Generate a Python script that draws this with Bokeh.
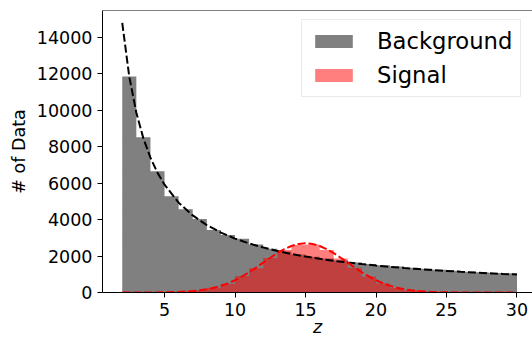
from bokeh.plotting import figure
from bokeh.models import (Range1d, FixedTicker, Span, Legend, LegendItem)
from bokeh.embed import file_html
from bokeh.resources import INLINE

# ---- data ----
bin_edges = [2, 3, 4, 5, 6, 7, 8, 9, 10, 11, 12, 13, 14, 15, 16, 17, 18, 19, 20,
             21, 22, 23, 24, 25, 26, 27, 28, 29, 30]
bkg_counts = [11860, 8520, 6660, 5290, 4575, 4030, 3425, 3150, 2950, 2640,
              2400, 2250, 2080, 1960, 1870, 1760, 1650, 1560, 1500, 1430,
              1360, 1300, 1250, 1190, 1140, 1110, 1070, 1050]
sig_counts = [0, 1, 5, 17, 50, 120, 260, 480, 900, 1330, 1900, 2330, 2610,
              2640, 2330, 1870, 1360, 880, 490, 250, 120, 45, 17, 6, 2, 0, 0, 0]

bkg_curve_x = [2, 2.5, 3, 3.5, 4, 4.5, 5, 6, 7, 8, 9, 10, 11, 12, 13, 14, 15,
               16, 17, 18, 19, 20, 21, 22, 23, 24, 25, 26, 27, 28, 29, 30]
bkg_curve_y = [14800, 11840, 9870, 8460, 7400, 6580, 5920, 4930, 4230, 3700,
               3290, 2960, 2690, 2470, 2280, 2110, 1970, 1850, 1740, 1645,
               1560, 1480, 1410, 1345, 1290, 1233, 1185, 1138, 1096, 1057,
               1020, 987]

sig_curve_x = [2, 3, 4, 5, 6, 7, 7.5, 8, 8.5, 9, 9.5, 10, 10.5, 11, 11.5, 12,
               12.5, 13, 13.5, 14, 14.5, 15, 15.5, 16, 16.5, 17, 17.5, 18,
               18.5, 19, 19.5, 20, 20.5, 21, 21.5, 22, 22.5, 23, 24, 25, 26,
               27, 28, 29, 30]
sig_curve_y = [0, 1, 3, 10, 30, 77, 119, 177, 258, 365, 503, 673, 878, 1110,
               1366, 1638, 1909, 2162, 2383, 2554, 2663, 2700, 2663, 2554,
               2383, 2162, 1909, 1638, 1366, 1110, 878, 673, 503, 365, 258,
               177, 119, 77, 30, 10, 3, 1, 0, 0, 0]

y_ticks = [0, 2000, 4000, 6000, 8000, 10000, 12000, 14000]
x_ticks = [5, 10, 15, 20, 25, 30]

FONT = "DejaVu Sans"
TICK_SIZE = "17.5px"


def step_outline(edges, counts):
    """Outline of a histogram (as matplotlib's stepfilled bars) from edges/counts."""
    xs, ys = [edges[0]], [0]
    for i, c in enumerate(counts):
        xs += [edges[i], edges[i + 1]]
        ys += [c, c]
    xs.append(edges[-1])
    ys.append(0)
    return xs, ys


p = figure(width=532, height=341, output_backend="svg", toolbar_location=None,
           x_range=Range1d(0.6, 31.1), y_range=Range1d(0, 15480),
           min_border_left=102, min_border_right=0, min_border_top=10,
           min_border_bottom=49)
p.outline_line_color = None
p.grid.visible = False
p.background_fill_color = "white"
p.border_fill_color = "white"

bx, by = step_outline(bin_edges, bkg_counts)
sx, sy = step_outline(bin_edges, sig_counts)
r_bkg = p.patch(bx, by, fill_color="#808080", fill_alpha=1.0, line_color=None)
r_sig = p.patch(sx, sy, fill_color="red", fill_alpha=0.5, line_color=None)
p.line(bkg_curve_x, bkg_curve_y, line_color="black", line_width=2,
       line_dash="8 3")
p.line(sig_curve_x, sig_curve_y, line_color="red", line_width=2,
       line_dash="8 3")

# top spine
p.add_layout(Span(location=15480, dimension="width", line_color="black",
                  line_width=1))

for ax in (p.xaxis[0], p.yaxis[0]):
    ax.axis_line_color = "black"
    ax.axis_line_width = 1
    ax.major_tick_line_color = "black"
    ax.major_tick_line_width = 1
    ax.major_tick_out = 5
    ax.major_tick_in = 0
    ax.minor_tick_line_color = None
    ax.major_label_text_font = FONT
    ax.major_label_text_font_size = TICK_SIZE
    ax.major_label_text_color = "black"
    ax.major_label_standoff = 5
    ax.axis_label_text_font = FONT
    ax.axis_label_text_font_size = TICK_SIZE
    ax.axis_label_text_color = "black"

p.xaxis[0].ticker = FixedTicker(ticks=x_ticks)
p.yaxis[0].ticker = FixedTicker(ticks=y_ticks)
p.yaxis[0].axis_label = "# of Data"
p.yaxis[0].axis_label_text_font_style = "normal"
p.yaxis[0].axis_label_standoff = 5
p.xaxis[0].axis_label = "z"
p.xaxis[0].axis_label_text_font_style = "italic"
p.xaxis[0].axis_label_standoff = -2

legend = Legend(items=[LegendItem(label="Background", renderers=[r_bkg]),
                       LegendItem(label="Signal", renderers=[r_sig])],
                location=(199, 195))
legend.label_text_font = FONT
legend.label_text_font_size = "22.7px"
legend.label_text_color = "black"
legend.glyph_width = 47
legend.glyph_height = 16
legend.label_height = 26
legend.label_standoff = 20
legend.padding = 8
legend.spacing = 8
legend.margin = 0
legend.border_line_color = "#d6d6d6"
legend.border_line_width = 1
legend.background_fill_color = "white"
legend.background_fill_alpha = 0.8
p.add_layout(legend, "center")

open("out.html", "w").write(file_html(p, INLINE))
